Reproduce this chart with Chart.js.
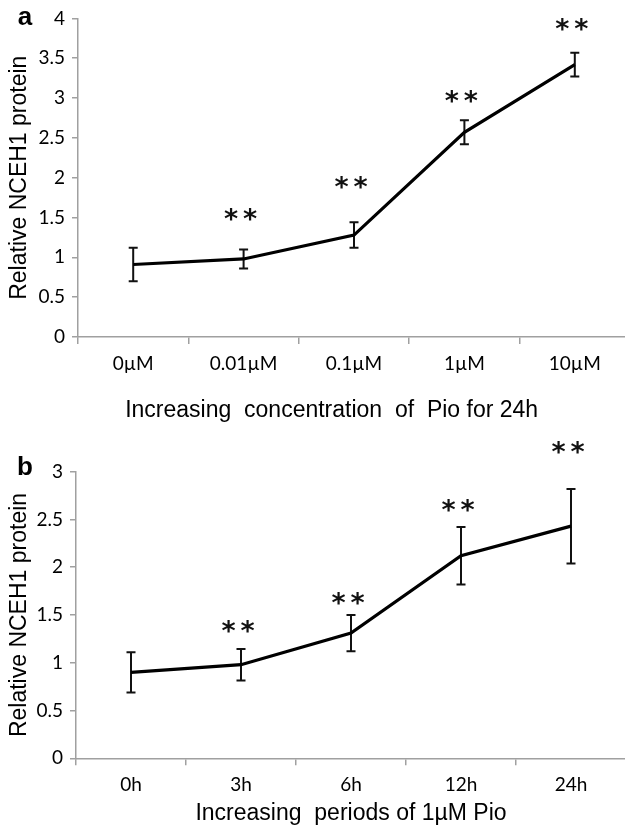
<!DOCTYPE html>
<html><head><meta charset="utf-8">
<script src="https://cdn.jsdelivr.net/npm/chart.js@4"></script>
<style>
html,body{margin:0;padding:0;background:#fff;overflow:hidden;width:625px;height:830px;position:relative;}
.wrap{position:absolute;left:0;width:640px;}
</style></head><body>
<div class="wrap" style="top:0;height:430px"><canvas id="ca"></canvas></div>
<div class="wrap" style="top:430px;height:400px"><canvas id="cb"></canvas></div>
<script>
// Panel a
const catsA = ['0µM','0.01µM','0.1µM','1µM','10µM'];
const valsA = [0.91, 0.98, 1.28, 2.57, 3.42];
const errA  = [0.21, 0.12, 0.16, 0.15, 0.15];
const starsA = [null, 1.52, 1.92, 3.0, 3.9];
const ticksA = [0, 0.5, 1, 1.5, 2, 2.5, 3, 3.5, 4];
// Panel b
const catsB = ['0h','3h','6h','12h','24h'];
const valsB = [0.90, 0.98, 1.31, 2.12, 2.43];
const errB  = [0.21, 0.165, 0.19, 0.30, 0.39];
const starsB = [null, 1.36, 1.66, 2.63, 3.24];
const ticksB = [0, 0.5, 1, 1.5, 2, 2.5, 3];

const AXIS = '#a0a0a0';
const TICKFONT = {family: 'Lato', size: 19};
const TITLEFONT = {family: 'Liberation Sans, Arial', size: 23};

const extras = {
  id: 'extras',
  beforeDatasetsDraw(chart, args, o) {
    const {ctx, scales: {x, y}} = chart;
    ctx.save();
    ctx.strokeStyle = '#111';
    ctx.lineWidth = 2;
    o.vals.forEach((v, i) => {
      const px = x.getPixelForValue(i);
      const t = y.getPixelForValue(v + o.err[i]);
      const b = y.getPixelForValue(v - o.err[i]);
      ctx.beginPath();
      ctx.moveTo(px, t); ctx.lineTo(px, b);
      ctx.moveTo(px - 4.5, t); ctx.lineTo(px + 4.5, t);
      ctx.moveTo(px - 4.5, b); ctx.lineTo(px + 4.5, b);
      ctx.stroke();
    });
    ctx.restore();
  },
  afterDraw(chart, args, o) {
    const {ctx, scales: {x, y}} = chart;
    ctx.save();
    ctx.fillStyle = '#111';
    ctx.textAlign = 'center';
    ctx.textBaseline = 'middle';
    ctx.font = 'bold 27px "DejaVu Sans"';
    o.stars.forEach((s, i) => {
      if (s == null) return;
      const px = x.getPixelForValue(i) - 3;
      const py = y.getPixelForValue(s);
      ctx.fillText('*', px - 9.5, py + 5);
      ctx.fillText('*', px + 9.5, py + 5);
    });
    ctx.font = 'bold 26px "Liberation Sans", Arial';
    ctx.textBaseline = 'alphabetic';
    ctx.fillStyle = '#000';
    ctx.fillText(o.panel, o.px, o.py);
    ctx.restore();
  }
};

function make(id, cats, vals, err, stars, ticks, xTitle, panel, cfg) {
  return new Chart(document.getElementById(id), {
    type: 'line',
    data: {
      labels: cats,
      datasets: [{
        data: vals,
        borderColor: '#000',
        borderWidth: 3.2,
        pointRadius: 0,
        tension: 0,
        fill: false
      }]
    },
    options: {
      responsive: true,
      maintainAspectRatio: false,
      animation: false,
      layout: {padding: {top: cfg.top, right: cfg.right, left: 0, bottom: 0}},
      plugins: {
        legend: {display: false},
        tooltip: {enabled: false},
        extras: {vals, err, stars, panel, px: 25, py: cfg.panelY}
      },
      scales: {
        x: {
          type: 'category',
          offset: true,
          grid: {display: true, drawOnChartArea: false, drawTicks: true, tickLength: 7, color: AXIS, offset: true, lineWidth: 1.5},
          border: {display: true, color: AXIS, width: 1.5},
          ticks: {color: '#000', font: TICKFONT, padding: 8, maxRotation: 0, autoSkip: false},
          title: {display: true, text: xTitle, color: '#000', font: TITLEFONT, padding: {top: 0, bottom: cfg.xTitlePad}},
          afterFit: s => { s.height = cfg.xH; }
        },
        y: {
          min: 0,
          max: ticks[ticks.length - 1],
          afterBuildTicks: s => { s.ticks = ticks.map(v => ({value: v})); },
          grid: {display: true, drawOnChartArea: false, drawTicks: true, tickLength: 6, color: AXIS, lineWidth: 1.5},
          border: {display: true, color: AXIS, width: 1.5},
          ticks: {color: '#000', font: TICKFONT, padding: 7, callback: v => String(v)},
          title: {display: true, text: 'Relative NCEH1 protein', color: '#000', font: {family: 'Liberation Sans, Arial', size: 23}, padding: {top: 6, bottom: 0}},
          afterFit: s => { s.width = cfg.yW; }
        }
      }
    },
    plugins: [extras]
  });
}

make('ca', catsA, valsA, errA, starsA, ticksA, 'Increasing  concentration  of  Pio for 24h       ', 'a',
  {top: 17, right: 10, xH: 93, yW: 78, xTitlePad: 6, panelY: 25});
make('cb', catsB, valsB, errB, starsB, ticksB, 'Increasing  periods of 1µM Pio', 'b',
  {top: 41.7, right: 14, xH: 71.7, yW: 76, xTitlePad: 3, panelY: 45});
</script>
</body></html>
